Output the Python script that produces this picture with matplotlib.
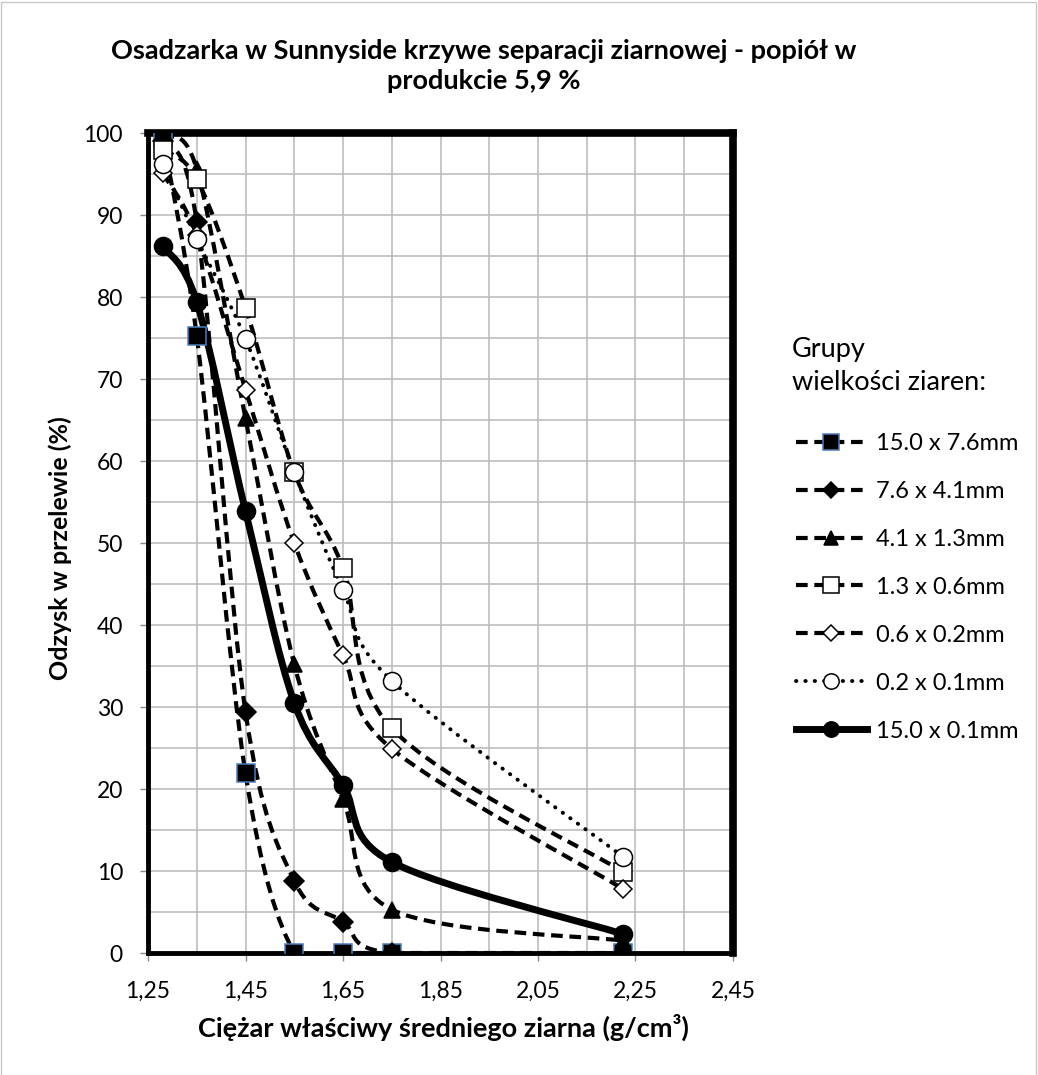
import numpy as np
import matplotlib
matplotlib.use("Agg")
import matplotlib.pyplot as plt
from matplotlib.path import Path
from matplotlib.patches import PathPatch, Rectangle
from matplotlib.lines import Line2D
from matplotlib.ticker import MultipleLocator, FuncFormatter

plt.rcParams['font.family'] = ['Lato', 'DejaVu Sans']

# specific gravity (g/cm3) of fraction midpoints
gravity = [1.28, 1.35, 1.45, 1.55, 1.65, 1.75, 2.225]

labels = ["15.0 x 7.6mm", "7.6 x 4.1mm", "4.1 x 1.3mm", "1.3 x 0.6mm",
          "0.6 x 0.2mm", "0.2 x 0.1mm", "15.0 x 0.1mm"]
rec_15_76 = [99.4, 75.2, 21.9, 0.0, 0.0, 0.0, 0.0]
rec_76_41 = [99.0, 89.1, 29.4, 8.8, 3.8, 0.0, 0.0]
rec_41_13 = [99.6, 95.6, 65.2, 35.2, 18.8, 5.3, 1.5]
rec_13_06 = [97.9, 94.4, 78.7, 58.6, 47.0, 27.4, 9.9]
rec_06_02 = [95.1, 87.6, 68.7, 50.0, 36.3, 24.9, 7.8]
rec_02_01 = [96.2, 87.1, 74.9, 58.6, 44.3, 33.2, 11.7]
rec_total = [86.2, 79.4, 53.9, 30.5, 20.5, 11.1, 2.3]
series = [rec_15_76, rec_76_41, rec_41_13, rec_13_06, rec_06_02, rec_02_01, rec_total]

DASH = (0, (2.8, 1.6))
DOT = (0, (0.1, 2.3))
styles = [  # line style, lw, marker, ms, face, edge
    (DASH, 3.0, "s", 13, "black", "#4a7ebb"),
    (DASH, 3.0, "D", 10, "black", "black"),
    (DASH, 3.0, "^", 12, "black", "black"),
    (DASH, 3.0, "s", 13, "white", "black"),
    (DASH, 3.0, "D", 9.5, "white", "black"),
    (DOT, 2.8, "o", 13, "white", "black"),
    ("-", 5.0, "o", 13, "black", "black"),
]


def smooth_path(x, y):
    # Excel-like smoothed line (Catmull-Rom as cubic Bezier)
    n = len(x)
    verts = [(x[0], y[0])]
    codes = [Path.MOVETO]
    for i in range(n - 1):
        a = max(i - 1, 0)
        d = min(i + 2, n - 1)
        verts += [(x[i] + (x[i + 1] - x[a]) / 6, y[i] + (y[i + 1] - y[a]) / 6),
                  (x[i + 1] - (x[d] - x[i]) / 6, y[i + 1] - (y[d] - y[i]) / 6),
                  (x[i + 1], y[i + 1])]
        codes += [Path.CURVE4] * 3
    return Path(verts, codes)


fig = plt.figure(figsize=(10.38, 10.75), dpi=100)
ax = fig.add_axes([148 / 1038, 1 - 953 / 1075, 585 / 1038, 820 / 1075])

handles = []
for k, (vals, st) in enumerate(zip(series, styles)):
    ls, lw, mk, ms, fc, ec = st
    patch = PathPatch(smooth_path(gravity, vals), fill=False, edgecolor="black",
                      lw=lw, linestyle=ls, zorder=3)
    patch.set_capstyle("round" if ls is DOT else "butt")
    ax.add_patch(patch)
    ax.plot(gravity, vals, ls="none", marker=mk, ms=ms, mfc=fc, mec=ec,
            mew=1.1, zorder=10 + k)
    handles.append(Line2D([], [], color="black", lw=lw, linestyle=ls, marker=mk,
                          ms=ms * 0.85, mfc=fc, mec=ec, mew=1.1,
                          dash_capstyle="round" if ls is DOT else "butt"))

ax.set_xlim(1.25, 2.45)
ax.set_ylim(0, 100)
ax.xaxis.set_major_locator(MultipleLocator(0.2, offset=0.05))
ax.xaxis.set_minor_locator(MultipleLocator(0.1, offset=0.05))
ax.yaxis.set_major_locator(MultipleLocator(10))
ax.yaxis.set_minor_locator(MultipleLocator(5))
ax.xaxis.set_major_formatter(FuncFormatter(lambda v, p: f"{v:.2f}".replace(".", ",")))
ax.grid(True, which="both", color="#b8b8b8", lw=1.1, zorder=0)
ax.set_axisbelow(True)
ax.tick_params(which="major", direction="out", length=6, width=1, color="#888888",
               labelsize=16.5)
ax.tick_params(axis="x", pad=14)
ax.tick_params(axis="y", pad=12)
ax.tick_params(which="minor", length=0)
for s in ["top", "right"]:
    ax.spines[s].set_linewidth(5.5)
for s in ["left", "bottom"]:
    ax.spines[s].set_linewidth(3.5)
for s in ax.spines.values():
    s.set_zorder(5)

fig.text(484 / 1038, 1 - 66 / 1075,
         "Osadzarka w Sunnyside krzywe separacji ziarnowej - popiół w\nprodukcie 5,9 %",
         ha="center", va="center", fontsize=19.5, fontweight="bold", linespacing=1.3)
fig.text(60 / 1038, 1 - 548 / 1075, "Odzysk w przelewie (%)", rotation=90,
         ha="center", va="center", fontsize=18, fontweight="bold")
fig.text(443 / 1038, 1 - 1027 / 1075, "Ciężar właściwy średniego ziarna (g/cm³)",
         ha="center", va="center", fontsize=19.5, fontweight="bold")
fig.text(792 / 1038, 1 - 366 / 1075, "Grupy\nwielkości ziaren:", ha="left",
         va="center", fontsize=19.5, linespacing=1.45)

fig.legend(handles, labels, loc="upper left",
           bbox_to_anchor=(796 / 1038, 1 - 433 / 1075), frameon=False,
           fontsize=17, handlelength=3.0, handletextpad=0.4, labelspacing=1.14,
           borderpad=0, borderaxespad=0)

fig.add_artist(Rectangle((0.001, -0.01), 0.997, 1.008, transform=fig.transFigure,
                         fill=False, edgecolor="#c8c8c8", lw=1))

fig.savefig("out.png", dpi=100)
